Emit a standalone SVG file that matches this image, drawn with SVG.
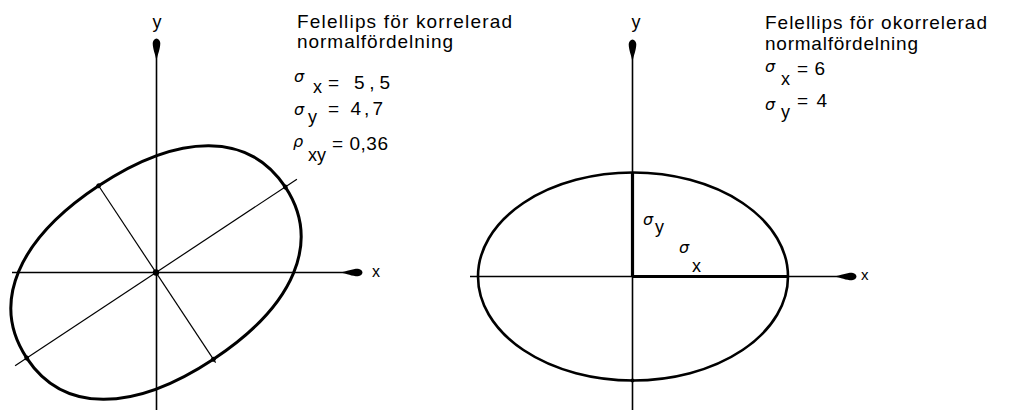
<svg xmlns="http://www.w3.org/2000/svg" width="1010" height="410" viewBox="0 0 1010 410">
<style>
.bg{fill:#fff}
.axis{stroke:#000;stroke-width:1.6;fill:none}
.thin{stroke:#000;stroke-width:1.2;fill:none}
.ell{stroke:#000;stroke-width:3;fill:none;stroke-linejoin:round}
.thick{stroke:#000;stroke-width:3.2;fill:none}
.dot{fill:#000}
.t{font-family:"Liberation Sans",Arial,sans-serif;fill:#000;font-size:19px}
.lab{font-family:"Liberation Sans",Arial,sans-serif;fill:#000;font-size:18px}
.g{font-family:"DejaVu Sans","Liberation Sans",sans-serif;font-style:italic;fill:#000;font-size:16px}
</style>
<defs>
<marker id="arr" viewBox="-24 -5 25 10" refX="0" refY="0" markerWidth="25" markerHeight="10" orient="auto" markerUnits="userSpaceOnUse">
<path d="M-22,0 C-15,-1.2 -10,-3.8 -4,-3.8 Q0,-3.2 0.5,0 Q0,3.2 -4,3.8 C-10,3.8 -15,1.2 -22,0 Z" fill="#000"/>
</marker>
</defs>
<rect class="bg" x="0" y="0" width="1010" height="410"/>

<g id="connectors">
<line class="axis" x1="156.5" y1="410" x2="156.5" y2="39" marker-end="url(#arr)"/>
<line class="axis" x1="12" y1="272.5" x2="362" y2="272.5" marker-end="url(#arr)"/>
<line class="axis" x1="632.5" y1="410" x2="632.5" y2="40" marker-end="url(#arr)"/>
<line class="axis" x1="470" y1="276.5" x2="856" y2="276.5" marker-end="url(#arr)"/>
</g>

<g id="left-ellipse">
<g transform="translate(156 272.5) rotate(-33.5)">
<path class="ell" d="M155,0 C155,65.5 97.6,104 0,104 C-97.6,104 -155,65.5 -155,0 C-155,-65.5 -97.6,-104 0,-104 C97.6,-104 155,-65.5 155,0 Z"/>
<line class="thin" x1="-169" y1="0" x2="169" y2="0"/>
<line class="thin" x1="0" y1="-104" x2="0" y2="108"/>
<circle class="dot" cx="155" cy="0" r="2.4"/>
<circle class="dot" cx="-155" cy="0" r="2.4"/>
<circle class="dot" cx="0" cy="-104" r="2.4"/>
<circle class="dot" cx="0" cy="104" r="2.4"/>
</g>
<circle class="dot" cx="156" cy="272.5" r="3.2"/>
</g>

<g id="left-labels">
<text class="lab" x="157" y="28" text-anchor="middle">y</text>
<text class="lab" x="372" y="277" style="font-size:16px">x</text>
<text class="t" x="297" y="28" textLength="215" lengthAdjust="spacing">Felellips för korrelerad</text>
<text class="t" x="297" y="48" textLength="156" lengthAdjust="spacing">normalfördelning</text>
<text class="g" x="294" y="82">σ</text>
<text class="lab" x="313" y="93">x</text>
<text class="t" x="328" y="89" textLength="62" lengthAdjust="spacing">= 5,5</text>
<text class="g" x="294" y="115">σ</text>
<text class="lab" x="308" y="123">y</text>
<text class="t" x="328" y="115" textLength="55" lengthAdjust="spacing">= 4,7</text>
<text class="g" x="293" y="147">ρ</text>
<text class="lab" x="308" y="161">xy</text>
<text class="t" x="332" y="150" textLength="56" lengthAdjust="spacing">= 0,36</text>
</g>

<g id="right-ellipse">
<ellipse class="ell" cx="633" cy="276.5" rx="155" ry="104" style="stroke-width:2.6"/>
<line class="thick" x1="632.5" y1="172.5" x2="632.5" y2="276.5"/>
<line class="thick" x1="632.5" y1="276.5" x2="788" y2="276.5"/>
<circle class="dot" cx="632.5" cy="380.5" r="2"/>
</g>

<g id="right-labels">
<text class="lab" x="636" y="28" text-anchor="middle">y</text>
<text class="lab" x="861" y="280" style="font-size:15px">x</text>
<text class="g" x="643" y="225">σ</text>
<text class="lab" x="655" y="233">y</text>
<text class="g" x="679" y="253">σ</text>
<text class="lab" x="692" y="272">x</text>
<text class="t" x="765" y="29" textLength="222" lengthAdjust="spacing">Felellips för okorrelerad</text>
<text class="t" x="765" y="50" textLength="153" lengthAdjust="spacing">normalfördelning</text>
<text class="g" x="765" y="72">σ</text>
<text class="lab" x="781" y="85">x</text>
<text class="t" x="797" y="75" textLength="28" lengthAdjust="spacing">= 6</text>
<text class="g" x="765" y="110">σ</text>
<text class="lab" x="781" y="118">y</text>
<text class="t" x="797" y="107" textLength="30" lengthAdjust="spacing">= 4</text>
</g>
</svg>
